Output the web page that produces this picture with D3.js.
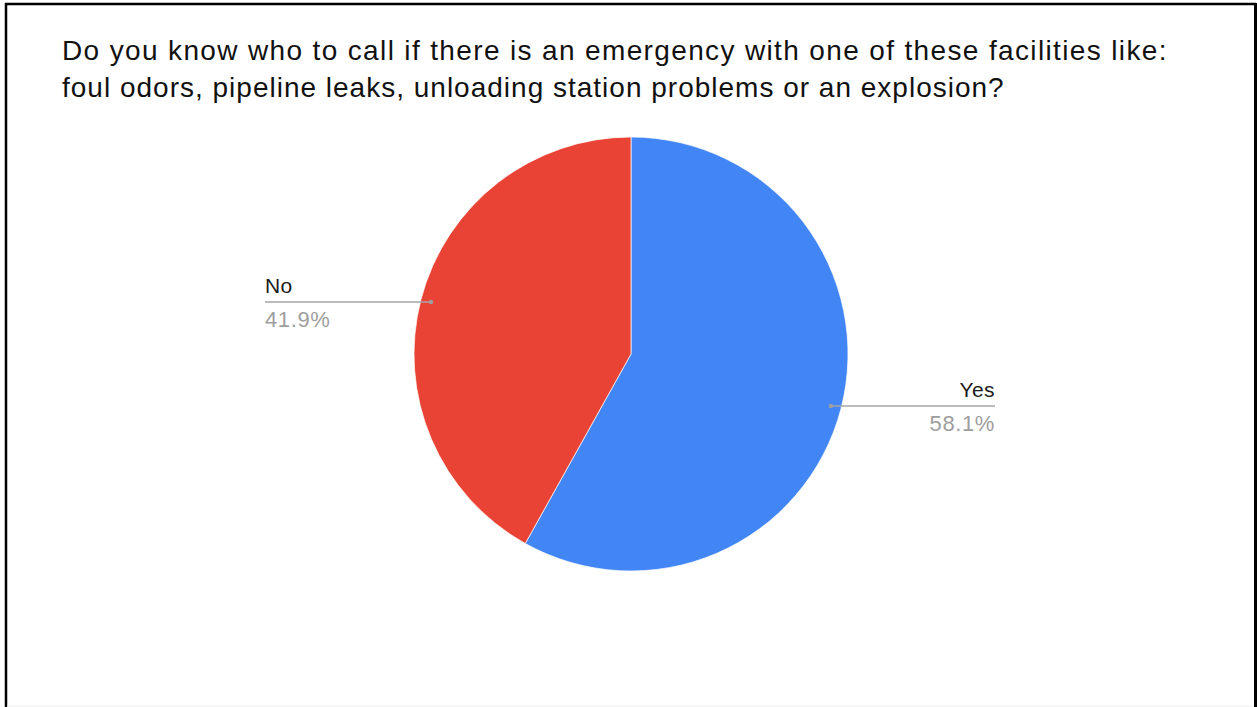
<!DOCTYPE html>
<html>
<head>
<meta charset="utf-8">
<script src="https://cdn.jsdelivr.net/npm/d3@7"></script>
<style>
  html, body { margin: 0; padding: 0; background: #fff; }
  svg { display: block; }
  text { font-family: "Liberation Sans", Arial, sans-serif; }
</style>
</head>
<body>
<svg id="chart" width="1257" height="707"></svg>
<script>
// Survey responses
const answers = ["Yes", "No"];
const shares = [58.1, 41.9];
const sliceColors = ["#4285f4", "#e94335"];
const titleLines = [
  "Do you know who to call if there is an emergency with one of these facilities like:",
  "foul odors, pipeline leaks, unloading station problems or an explosion?"
];
const titleSpacing = [1.36, 1.0];

const W = 1257, H = 707;
const svg = d3.select("#chart");

// Frame
svg.append("rect").attr("x", 0).attr("y", 0).attr("width", W).attr("height", H).attr("fill", "#fff");
svg.append("line").attr("x1", 6).attr("x2", 6).attr("y1", 3).attr("y2", H).attr("stroke", "#000").attr("stroke-width", 2.5);
svg.append("line").attr("x1", 5).attr("x2", 1256).attr("y1", 4).attr("y2", 4).attr("stroke", "#000").attr("stroke-width", 2.5);
svg.append("line").attr("x1", 1255.5).attr("x2", 1255.5).attr("y1", 3).attr("y2", H).attr("stroke", "#000").attr("stroke-width", 3);
svg.append("line").attr("x1", 7).attr("x2", 1254).attr("y1", 706).attr("y2", 706).attr("stroke", "#eee").attr("stroke-width", 1);

// Title
svg.append("g").selectAll("text").data(titleLines).join("text")
  .attr("x", 62)
  .attr("y", (d, i) => 60 + i * 37)
  .attr("font-size", 28)
  .attr("letter-spacing", (d, i) => titleSpacing[i])
  .attr("fill", "#111")
  .text(d => d);

// Pie
const cx = 631, cy = 354, R = 217;
const data = answers.map((a, i) => ({ label: a, value: shares[i], color: sliceColors[i] }));
const pie = d3.pie().value(d => d.value).sort(null);
const arcs = pie(data);
const arc = d3.arc().innerRadius(0).outerRadius(R);
const g = svg.append("g").attr("transform", `translate(${cx},${cy})`);

g.selectAll("path").data(arcs).join("path")
  .attr("d", arc)
  .attr("fill", d => d.data.color)
  .attr("stroke", "#fff")
  .attr("stroke-width", 0.7);

// Leader lines and labels
const dotR = R * 0.952;
const labelX = { Yes: 995 - cx, No: 265 - cx };
arcs.forEach(a => {
  const mid = (a.startAngle + a.endAngle) / 2;
  const px = Math.sin(mid) * dotR;
  const py = -Math.cos(mid) * dotR;
  const right = px > 0;
  const endX = labelX[a.data.label];
  g.append("line")
    .attr("x1", px).attr("y1", py).attr("x2", endX).attr("y2", py)
    .attr("stroke", "#a6a6a6").attr("stroke-width", 1.5);
  g.append("circle").attr("cx", px).attr("cy", py).attr("r", 2.2).attr("fill", "#9e9e9e");
  g.append("text")
    .attr("x", endX).attr("y", py - 9)
    .attr("text-anchor", right ? "end" : "start")
    .attr("font-size", 21).attr("letter-spacing", 0.4).attr("fill", "#1a1a1a")
    .text(a.data.label);
  g.append("text")
    .attr("x", endX).attr("y", py + 25)
    .attr("text-anchor", right ? "end" : "start")
    .attr("font-size", 22).attr("letter-spacing", 0.6).attr("fill", "#9e9e9e")
    .text(d3.format(".1f")(a.data.value) + "%");
});
</script>
</body>
</html>
